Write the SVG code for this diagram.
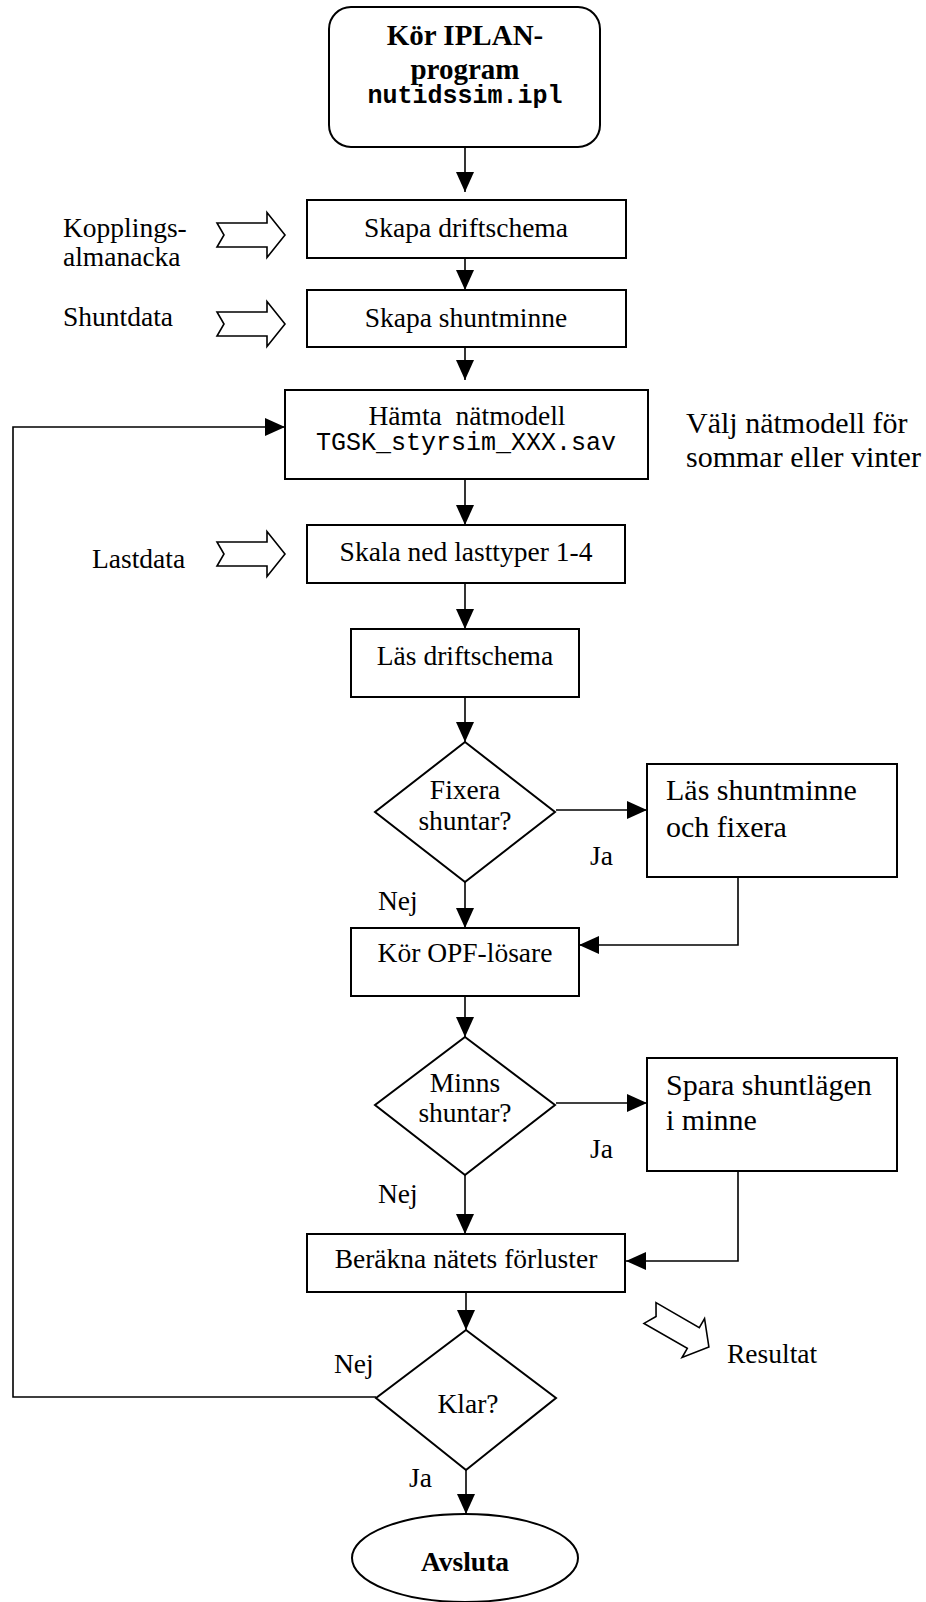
<svg xmlns="http://www.w3.org/2000/svg" width="926" height="1602" viewBox="0 0 926 1602">
<style>
.box{fill:#fff;stroke:#000;stroke-width:2}
.con{fill:none;stroke:#000;stroke-width:1.6}
.ba{fill:#fff;stroke:#000;stroke-width:1.6;stroke-linejoin:miter}
.t{font-family:"Liberation Serif","Times New Roman",serif;font-size:27.5px;fill:#000}
.tl{font-family:"Liberation Serif","Times New Roman",serif;font-size:30px;fill:#000}
.c{text-anchor:middle}
.b{font-weight:bold;font-size:29px}
.m{font-family:"Liberation Mono","Courier New",monospace;font-size:25px;fill:#000}
</style>
<defs>
<marker id="ah" markerUnits="userSpaceOnUse" markerWidth="20" markerHeight="18" refX="20" refY="9" orient="auto">
<path d="M0,0 L20,9 L0,18 z" fill="#000"/>
</marker>
<polygon id="blk" points="0,-12 50,-12 50,-22.5 68,0 50,22.5 50,12 0,12 7,0"/>
</defs>

<g id="connectors">
<path class="con" marker-end="url(#ah)" d="M465,147 V192"/>
<path class="con" marker-end="url(#ah)" d="M465,258 V290"/>
<path class="con" marker-end="url(#ah)" d="M465,347 V380"/>
<path class="con" marker-end="url(#ah)" d="M465,479 V525"/>
<path class="con" marker-end="url(#ah)" d="M465,583 V629"/>
<path class="con" marker-end="url(#ah)" d="M465,697 V742"/>
<path class="con" marker-end="url(#ah)" d="M556,810 H647"/>
<path class="con" marker-end="url(#ah)" d="M465,882 V928"/>
<path class="con" marker-end="url(#ah)" d="M738,877 V945 H579"/>
<path class="con" marker-end="url(#ah)" d="M465,996 V1037"/>
<path class="con" marker-end="url(#ah)" d="M556,1103 H647"/>
<path class="con" marker-end="url(#ah)" d="M465,1175 V1234"/>
<path class="con" marker-end="url(#ah)" d="M738,1171 V1261 H626"/>
<path class="con" marker-end="url(#ah)" d="M466,1292 V1330"/>
<path class="con" marker-end="url(#ah)" d="M376,1397 H13 V427 H285"/>
<path class="con" marker-end="url(#ah)" d="M466,1470 V1514"/>
</g>

<g id="start">
<rect class="box" x="329" y="7" width="271" height="140" rx="22" ry="22"/>
<text class="t c b" x="465" y="45">Kör IPLAN-</text>
<text class="t c b" x="465" y="79">program</text>
<text class="m c" x="465" y="103" font-weight="bold">nutidssim.ipl</text>
</g>

<g id="skapa-driftschema">
<rect class="box" x="307" y="200" width="319" height="58"/>
<text class="t c" x="466" y="237">Skapa driftschema</text>
</g>

<g id="skapa-shuntminne">
<rect class="box" x="307" y="290" width="319" height="57"/>
<text class="t c" x="466" y="327">Skapa shuntminne</text>
</g>

<g id="hamta-natmodell">
<rect class="box" x="285" y="390" width="363" height="89"/>
<text class="t c" x="467" y="425" xml:space="preserve">Hämta  nätmodell</text>
<text class="m c" x="466" y="450">TGSK_styrsim_XXX.sav</text>
</g>

<g id="skala-ned">
<rect class="box" x="307" y="525" width="318" height="58"/>
<text class="t c" x="466" y="561">Skala ned lasttyper 1-4</text>
</g>

<g id="las-driftschema">
<rect class="box" x="351" y="629" width="228" height="68"/>
<text class="t c" x="465" y="665">Läs driftschema</text>
</g>

<g id="fixera-shuntar">
<polygon class="box" points="465,742 555,812 465,882 375,812"/>
<text class="t c" x="465" y="799">Fixera</text>
<text class="t c" x="465" y="830">shuntar?</text>
</g>

<g id="las-shuntminne">
<rect class="box" x="647" y="764" width="250" height="113"/>
<text class="tl" x="666" y="800">Läs shuntminne</text>
<text class="tl" x="666" y="837">och fixera</text>
</g>

<g id="kor-opf">
<rect class="box" x="351" y="928" width="228" height="68"/>
<text class="t c" x="465" y="962">Kör OPF-lösare</text>
</g>

<g id="minns-shuntar">
<polygon class="box" points="465,1037 555,1105 465,1175 375,1105"/>
<text class="t c" x="465" y="1092">Minns</text>
<text class="t c" x="465" y="1122">shuntar?</text>
</g>

<g id="spara-shuntlagen">
<rect class="box" x="647" y="1058" width="250" height="113"/>
<text class="tl" x="666" y="1095">Spara shuntlägen</text>
<text class="tl" x="666" y="1130">i minne</text>
</g>

<g id="berakna">
<rect class="box" x="307" y="1234" width="318" height="58"/>
<text class="t c" x="466" y="1268">Beräkna nätets förluster</text>
</g>

<g id="klar">
<polygon class="box" points="466,1330 556,1398 466,1470 376,1398"/>
<text class="t c" x="468" y="1413">Klar?</text>
</g>

<g id="avsluta">
<ellipse class="box" cx="465" cy="1558" rx="113" ry="44"/>
<text class="t c" x="465" y="1571" font-weight="bold">Avsluta</text>
</g>

<g id="inputs">
<use href="#blk" class="ba" transform="translate(217,235)"/>
<text class="t" x="63" y="237">Kopplings-</text>
<text class="t" x="63" y="266">almanacka</text>
<use href="#blk" class="ba" transform="translate(217,324)"/>
<text class="t" x="63" y="326">Shuntdata</text>
<use href="#blk" class="ba" transform="translate(217,554)"/>
<text class="t" x="92" y="568">Lastdata</text>
<use href="#blk" class="ba" transform="translate(650,1313) rotate(30)"/>
<text class="t" x="727" y="1363">Resultat</text>
</g>

<g id="labels">
<text class="tl" x="686" y="433">Välj nätmodell för</text>
<text class="tl" x="686" y="467">sommar eller vinter</text>
<text class="t" x="590" y="865">Ja</text>
<text class="t" x="378" y="910">Nej</text>
<text class="t" x="590" y="1158">Ja</text>
<text class="t" x="378" y="1203">Nej</text>
<text class="t" x="334" y="1373">Nej</text>
<text class="t" x="409" y="1487">Ja</text>
</g>
</svg>
